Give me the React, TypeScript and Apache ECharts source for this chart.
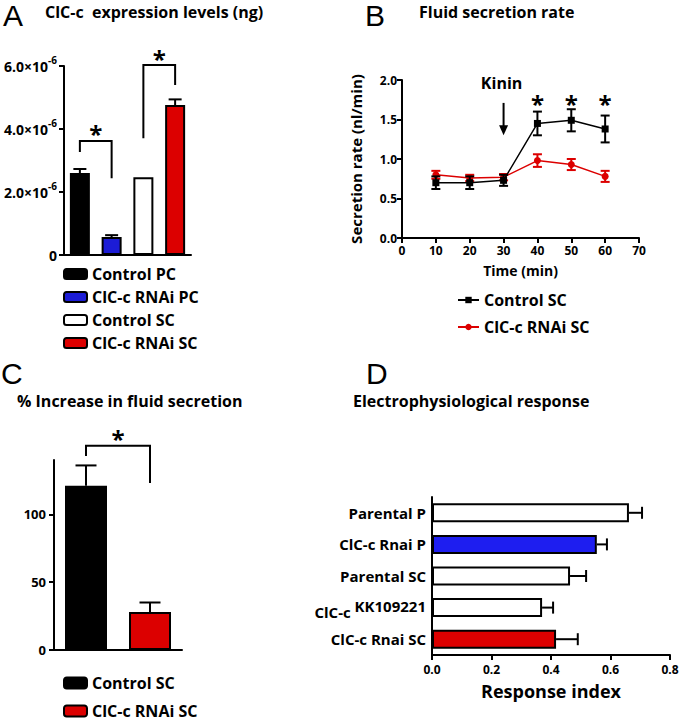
import React, { useEffect, useRef } from 'react';
import * as echarts from 'echarts';

const FONT = '"Open Sans", "DejaVu Sans", sans-serif';
const LETTER_FONT = '"Liberation Sans", Arial, sans-serif';

// ---- Panel A: ClC-c expression levels (values in units of 10^-6 ng)
const exprCategories = ['Control PC', 'ClC-c RNAi PC', 'Control SC', 'ClC-c RNAi SC'];
const exprValues = [2.6, 0.57, 2.47, 4.76];
const exprErrors = [0.13, 0.06, 0, 0.18];
const exprColors = ['#000000', '#1c1cd6', '#ffffff', '#dc0000'];
const exprTicks = [0, 2, 4, 6];
// [leftCat, rightCat, leftFoot, top, rightFoot]
const exprBrackets = [
  [0, 1, 3.27, 3.62, 2.44],
  [2, 3, 3.71, 6.03, 5.4],
];

// ---- Panel B: Fluid secretion rate
const timePoints = [10, 20, 30, 40, 50, 60];
const controlRate = [0.7, 0.7, 0.73, 1.45, 1.49, 1.38];
const controlErr = [0.08, 0.08, 0.07, 0.15, 0.14, 0.17];
const rnaiRate = [0.8, 0.76, 0.77, 0.98, 0.93, 0.78];
const rnaiErr = [0.05, 0.04, 0.04, 0.08, 0.07, 0.07];
const rateSeriesNames = ['Control SC', 'ClC-c RNAi SC'];
const kininArrow = [30, 1.71, 1.3];
const kininLabel = 'Kinin';
const rateSigTimes = [40, 50, 60];
const rateSigLevel = 1.76;

// ---- Panel C: % Increase in fluid secretion
const increaseCategories = ['Control SC', 'ClC-c RNAi SC'];
const increaseValues = [121, 28];
const increaseErrors = [15, 7];
const increaseColors = ['#000000', '#dc0000'];
const increaseTicks = [0, 50, 100];
const increaseBracket = [0, 1, 143, 150.5, 123];

// ---- Panel D: Electrophysiological response
const respCategories = ['Parental P', 'ClC-c Rnai P', 'Parental SC', 'ClC-c KK109221', 'ClC-c Rnai SC'];
const respValues = [0.662, 0.554, 0.464, 0.37, 0.417];
const respErrors = [0.044, 0.034, 0.054, 0.037, 0.073];
const respColors = ['#ffffff', '#1e1ef0', '#ffffff', '#ffffff', '#dc0000'];

const BLACK = '#000000';
const axisLine = { show: true, onZero: false, lineStyle: { color: BLACK, width: 2 } };
const tick = (extra: any = {}) => ({ show: true, length: 5, lineStyle: { color: BLACK, width: 2 }, ...extra });
const lbl = (size: number, extra: any = {}) => ({ color: BLACK, fontWeight: 'bold', fontSize: size, fontFamily: FONT, ...extra });

const vErr = (cap: number, color = BLACK, both = false) => (params: any, api: any) => {
  const x = api.value(0), lo = api.value(1), hi = api.value(2);
  const a = api.coord([x, lo]), b = api.coord([x, hi]);
  const st = { stroke: color, lineWidth: 2 };
  const ch: any[] = [
    { type: 'line', shape: { x1: a[0], y1: a[1], x2: b[0], y2: b[1] }, style: st },
    { type: 'line', shape: { x1: b[0] - cap / 2, y1: b[1], x2: b[0] + cap / 2, y2: b[1] }, style: st },
  ];
  if (both) ch.push({ type: 'line', shape: { x1: a[0] - cap / 2, y1: a[1], x2: a[0] + cap / 2, y2: a[1] }, style: st });
  return { type: 'group', children: ch };
};

const hErr = (cap: number) => (params: any, api: any) => {
  const y = api.value(0), lo = api.value(1), hi = api.value(2);
  const a = api.coord([lo, y]), b = api.coord([hi, y]);
  const st = { stroke: BLACK, lineWidth: 2 };
  return {
    type: 'group',
    children: [
      { type: 'line', shape: { x1: a[0], y1: a[1], x2: b[0], y2: b[1] }, style: st },
      { type: 'line', shape: { x1: b[0], y1: b[1] - cap / 2, x2: b[0], y2: b[1] + cap / 2 }, style: st },
    ],
  };
};

const starText = (x: number, y: number) => ({
  type: 'text',
  x,
  y,
  style: { text: '*', font: `bold 24px ${FONT}`, fill: BLACK, align: 'center', textAlign: 'center', verticalAlign: 'middle', textVerticalAlign: 'middle' },
});

const bracketItem = (params: any, api: any) => {
  const p1 = api.coord([api.value(0), api.value(2)]);
  const p2 = api.coord([api.value(0), api.value(3)]);
  const p3 = api.coord([api.value(1), api.value(3)]);
  const p4 = api.coord([api.value(1), api.value(4)]);
  return {
    type: 'group',
    children: [
      { type: 'polyline', shape: { points: [p1, p2, p3, p4] }, style: { stroke: BLACK, lineWidth: 2, fill: null } },
      starText((p2[0] + p3[0]) / 2, p2[1] - 7),
    ],
  };
};

const kininItem = (params: any, api: any) => {
  const top = api.coord([api.value(0), api.value(1)]);
  const bot = api.coord([api.value(0), api.value(2)]);
  return {
    type: 'group',
    children: [
      { type: 'line', shape: { x1: top[0], y1: top[1], x2: bot[0], y2: bot[1] - 8 }, style: { stroke: BLACK, lineWidth: 2 } },
      { type: 'polygon', shape: { points: [[bot[0] - 4.5, bot[1] - 10], [bot[0] + 4.5, bot[1] - 10], [bot[0], bot[1]]] }, style: { fill: BLACK } },
      {
        type: 'text',
        x: top[0] - 2,
        y: top[1] - 20,
        style: { text: kininLabel, font: `bold 16px ${FONT}`, fill: BLACK, align: 'center', textAlign: 'center', verticalAlign: 'middle', textVerticalAlign: 'middle' },
      },
    ],
  };
};

const sigItem = (params: any, api: any) => {
  const p = api.coord([api.value(0), api.value(1)]);
  return starText(p[0], p[1] + 5);
};

const textEl = (text: string, x: number, y: number, font: string) => ({
  type: 'text',
  x,
  y,
  style: { text, font, fill: BLACK, align: 'left', textAlign: 'left', verticalAlign: 'middle', textVerticalAlign: 'middle' },
});

export default function App() {
  const ref = useRef<HTMLDivElement>(null);
  useEffect(() => {
    if (!ref.current) return;
    const chart = echarts.init(ref.current, null, { renderer: 'svg' });
    const legendText = { color: BLACK, fontWeight: 'bold', fontSize: 16, fontFamily: FONT };
    const aNames = exprCategories.map((n) => n + ' ');
    const cNames = increaseCategories.map((n) => n + '  ');

    const option: any = {
      animation: false,
      backgroundColor: '#ffffff',
      textStyle: { fontFamily: FONT },
      grid: [
        { left: 64, top: 66, width: 127, height: 189, outerBoundsMode: 'none' },
        { left: 402, top: 80, width: 237, height: 158, outerBoundsMode: 'none' },
        { left: 54, top: 460, width: 128, height: 190, outerBoundsMode: 'none' },
        { left: 432, top: 497, width: 238, height: 158, outerBoundsMode: 'none' },
      ],
      xAxis: [
        { gridIndex: 0, type: 'category', data: exprCategories, axisLine, axisTick: { show: false }, axisLabel: { show: false }, splitLine: { show: false } },
        {
          gridIndex: 1, type: 'value', min: 0, max: 70, interval: 10, axisLine, axisTick: tick(), splitLine: { show: false },
          axisLabel: lbl(12, { margin: 6 }),
          name: 'Time (min)', nameLocation: 'middle', nameGap: 25, nameTextStyle: lbl(14),
        },
        { gridIndex: 2, type: 'category', data: increaseCategories, axisLine, axisTick: { show: false }, axisLabel: { show: false }, splitLine: { show: false } },
        {
          gridIndex: 3, type: 'value', min: 0, max: 0.8, interval: 0.2, axisLine, axisTick: tick(), splitLine: { show: false },
          axisLabel: lbl(12, { margin: 8, formatter: (v: number) => v.toFixed(1) }),
          name: 'Response index', nameLocation: 'middle', nameGap: 27, nameTextStyle: lbl(18),
        },
      ],
      yAxis: [
        {
          gridIndex: 0, type: 'value', min: 0, max: 6, interval: 2, axisLine, splitLine: { show: false },
          axisTick: tick({ customValues: exprTicks }),
          axisLabel: {
            customValues: exprTicks, margin: 7,
            formatter: (v: number) => (v === 0 ? '{b|0}' : `{b|${v.toFixed(1)}×10}{s|-6}`),
            rich: {
              b: lbl(14),
              s: lbl(10, { padding: [0, 0, 13, 0] }),
            },
          },
        },
        {
          gridIndex: 1, type: 'value', min: 0, max: 2, interval: 0.5, axisLine, axisTick: tick(), splitLine: { show: false },
          axisLabel: lbl(12, { margin: 5, formatter: (v: number) => v.toFixed(1) }),
          name: 'Secretion rate (nl/min)', nameLocation: 'middle', nameGap: 39, nameTextStyle: lbl(15),
        },
        {
          gridIndex: 2, type: 'value', min: 0, max: 140, axisLine, splitLine: { show: false },
          axisTick: tick({ customValues: increaseTicks }),
          axisLabel: lbl(13, { customValues: increaseTicks, margin: 8 }),
        },
        {
          gridIndex: 3, type: 'category', data: respCategories, inverse: true, axisLine, axisTick: { show: false }, splitLine: { show: false },
          axisLabel: {
            margin: 6,
            formatter: (v: string) => {
              const m = v.match(/^(.*) (KK\d+)$/);
              return m ? `{n|${m[1]} }{sup|${m[2]}}` : `{p|${v}}`;
            },
            rich: {
              p: lbl(15),
              n: lbl(15, { padding: [8, 0, 0, 0] }),
              sup: lbl(15, { padding: [0, 0, 4, 0] }),
            },
          },
        },
      ],
      legend: [
        {
          orient: 'vertical', left: 63, top: 266, padding: 0, itemGap: 7, itemWidth: 23, itemHeight: 10,
          icon: 'roundRect', data: aNames, textStyle: legendText, selectedMode: false, formatter: (n: string) => n.trim(),
        },
        {
          orient: 'vertical', left: 457, top: 292, padding: 0, itemGap: 11, itemWidth: 21, itemHeight: 8,
          data: rateSeriesNames, textStyle: legendText, selectedMode: false,
        },
        {
          orient: 'vertical', left: 63, top: 675, padding: 0, itemGap: 12, itemWidth: 23, itemHeight: 11,
          icon: 'roundRect', data: cNames, textStyle: legendText, selectedMode: false, formatter: (n: string) => n.trim(),
        },
      ],
      graphic: [
        textEl('A', 3, 15.5, `normal 30px ${LETTER_FONT}`),
        textEl('ClC-c  expression levels (ng)', 45, 12, `bold 16px ${FONT}`),
        textEl('B', 365, 15.5, `normal 30px ${LETTER_FONT}`),
        textEl('Fluid secretion rate', 419, 12, `bold 16px ${FONT}`),
        textEl('C', 1, 373, `normal 30px ${LETTER_FONT}`),
        textEl('% Increase in fluid secretion', 17, 401, `bold 16px ${FONT}`),
        textEl('D', 366, 373, `normal 30px ${LETTER_FONT}`),
        textEl('Electrophysiological response', 353, 401, `bold 16px ${FONT}`),
      ],
      series: [
        // Panel A bars
        ...exprCategories.map((c, k) => ({
          type: 'bar', name: aNames[k], xAxisIndex: 0, yAxisIndex: 0,
          data: exprValues.map((v, i) => (i === k ? v : '-')),
          barWidth: 20, barGap: '-100%',
          itemStyle: { color: exprColors[k], borderColor: BLACK, borderWidth: 2 },
          z: 3,
        })),
        {
          type: 'custom', xAxisIndex: 0, yAxisIndex: 0, clip: false, z: 2,
          encode: { x: 0, y: [1, 2] },
          data: exprValues.map((v, i) => [i, v, v + exprErrors[i]]).filter((d, i) => exprErrors[i] > 0),
          renderItem: vErr(13),
        },
        {
          type: 'custom', xAxisIndex: 0, yAxisIndex: 0, clip: false, z: 4,
          encode: { x: [0, 1], y: [2, 3, 4] },
          data: exprBrackets,
          renderItem: bracketItem,
        },
        // Panel B
        {
          type: 'custom', xAxisIndex: 1, yAxisIndex: 1, clip: false, z: 2,
          encode: { x: 0, y: [1, 2] },
          data: timePoints.map((t, i) => [t, rnaiRate[i] - rnaiErr[i], rnaiRate[i] + rnaiErr[i]]),
          renderItem: vErr(9, '#dc0000', true),
        },
        {
          type: 'line', name: rateSeriesNames[1], xAxisIndex: 1, yAxisIndex: 1, z: 3,
          data: timePoints.map((t, i) => [t, rnaiRate[i]]),
          symbol: 'circle', symbolSize: 7, color: '#dc0000',
          itemStyle: { color: '#dc0000' }, lineStyle: { color: '#dc0000', width: 1.5 },
        },
        {
          type: 'custom', xAxisIndex: 1, yAxisIndex: 1, clip: false, z: 4,
          encode: { x: 0, y: [1, 2] },
          data: timePoints.map((t, i) => [t, controlRate[i] - controlErr[i], controlRate[i] + controlErr[i]]),
          renderItem: vErr(9, BLACK, true),
        },
        {
          type: 'line', name: rateSeriesNames[0], xAxisIndex: 1, yAxisIndex: 1, z: 5,
          data: timePoints.map((t, i) => [t, controlRate[i]]),
          symbol: 'rect', symbolSize: 7, color: BLACK,
          itemStyle: { color: BLACK }, lineStyle: { color: BLACK, width: 1.5 },
        },
        {
          type: 'custom', xAxisIndex: 1, yAxisIndex: 1, clip: false, z: 6,
          encode: { x: 0, y: [1, 2] },
          data: [kininArrow],
          renderItem: kininItem,
        },
        {
          type: 'custom', xAxisIndex: 1, yAxisIndex: 1, clip: false, z: 6,
          encode: { x: 0, y: 1 },
          data: rateSigTimes.map((t) => [t, rateSigLevel]),
          renderItem: sigItem,
        },
        // Panel C
        ...increaseCategories.map((c, k) => ({
          type: 'bar', name: cNames[k], xAxisIndex: 2, yAxisIndex: 2,
          data: increaseValues.map((v, i) => (i === k ? v : '-')),
          barWidth: 42, barGap: '-100%',
          itemStyle: { color: increaseColors[k], borderColor: BLACK, borderWidth: 2 },
          z: 3,
        })),
        {
          type: 'custom', xAxisIndex: 2, yAxisIndex: 2, clip: false, z: 2,
          encode: { x: 0, y: [1, 2] },
          data: increaseValues.map((v, i) => [i, v, v + increaseErrors[i]]),
          renderItem: vErr(21),
        },
        {
          type: 'custom', xAxisIndex: 2, yAxisIndex: 2, clip: false, z: 4,
          encode: { x: [0, 1], y: [2, 3, 4] },
          data: [increaseBracket],
          renderItem: bracketItem,
        },
        // Panel D
        {
          type: 'bar', name: 'Response index', xAxisIndex: 3, yAxisIndex: 3, barWidth: 19, z: 3,
          data: respValues.map((v, i) => ({ value: v, itemStyle: { color: respColors[i], borderColor: BLACK, borderWidth: 2 } })),
        },
        {
          type: 'custom', xAxisIndex: 3, yAxisIndex: 3, clip: false, z: 2,
          encode: { y: 0, x: [1, 2] },
          data: respValues.map((v, i) => [i, v, v + respErrors[i]]),
          renderItem: hErr(12),
        },
      ],
    };
    chart.setOption(option);
    return () => chart.dispose();
  }, []);
  return <div ref={ref} style={{ position: 'absolute', left: 0, top: 0, width: 680, height: 724 }} />;
}
